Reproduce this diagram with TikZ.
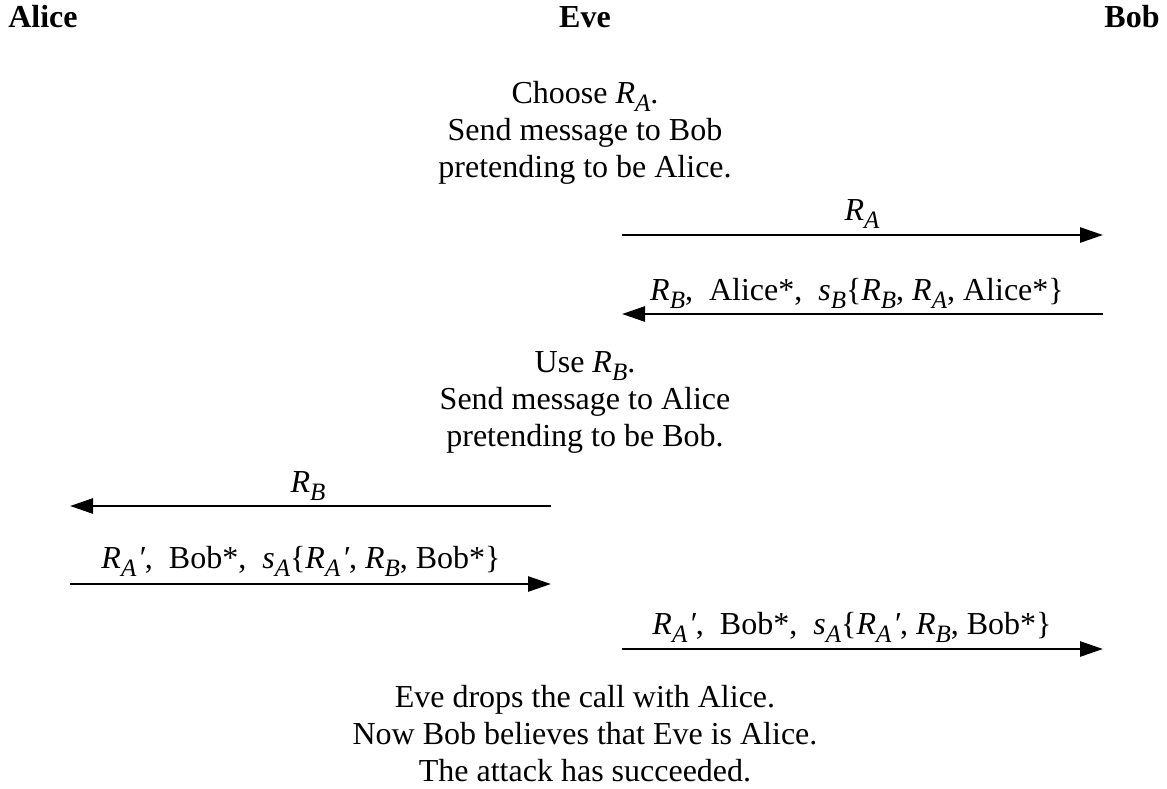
\documentclass[tikz,border=0pt]{standalone}
\usepackage{fontspec}
\setmainfont{Liberation Serif}
\usetikzlibrary{arrows.meta}
\newcommand\vr[2]{\textit{#1}\raisebox{-8pt}{\fontsize{25}{25}\selectfont\textit{#2}}}
\newcommand\vrp[2]{\textit{#1}\raisebox{-8pt}{\fontsize{25}{25}\selectfont\textit{#2}}\textit{\kern0.05em′}}
\begin{document}
\begin{tikzpicture}[x=1pt,y=-1pt,
  every node/.style={inner sep=0pt,outer sep=0pt,font=\fontsize{32}{37}\selectfont},
  hdr/.style={anchor=base,font=\fontsize{32}{37}\selectfont\bfseries},
  blk/.style={align=center,anchor=north},
  lbl/.style={anchor=base},
  msg/.style={line width=2.7pt,-{Triangle[length=23pt,width=15pt]}}]
\useasboundingbox (0,0) rectangle (1167,788);
% headers
\node[hdr] (alice) at (43,27) {Alice};
\node[hdr] (eve) at (585,27) {Eve};
\node[hdr] (bob) at (1132,27) {Bob};
% block 1
\node[blk] (b1) at (585,81) {Choose \vr{R}{A}.\\Send message to Bob\\pretending to be Alice.};
% arrow 1
\coordinate (m1s) at (622,235);
\coordinate (m1e) at (1103,235);
\draw[msg] (m1s) -- (m1e);
\node[lbl] (l1) at (862,220) {\vr{R}{A}};
% arrow 2
\coordinate (m2s) at (1103,314);
\coordinate (m2e) at (622,314);
\draw[msg] (m2s) -- (m2e);
\node[lbl] (l2) at (857,300) {\vr{R}{B},\ \ Alice*,\ \ \vr{s}{B}\{\vr{R}{B}, \vr{R}{A}, Alice*\}};
% block 2
\node[blk] (b2) at (585,352) {Use \vr{R}{B}.\\Send message to Alice\\pretending to be Bob.};
% arrow 3
\coordinate (m3s) at (551,506);
\coordinate (m3e) at (70,506);
\draw[msg] (m3s) -- (m3e);
\node[lbl] (l3) at (308,492) {\vr{R}{B}};
% arrow 4
\coordinate (m4s) at (70,584);
\coordinate (m4e) at (551,584);
\draw[msg] (m4s) -- (m4e);
\node[lbl] (l4) at (301,568) {\vrp{R}{A},\ \ Bob*,\ \ \vr{s}{A}\{\vrp{R}{A}, \vr{R}{B}, Bob*\}};
% arrow 5
\coordinate (m5s) at (622,649);
\coordinate (m5e) at (1103,649);
\draw[msg] (m5s) -- (m5e);
\node[lbl] (l5) at (852,634) {\vrp{R}{A},\ \ Bob*,\ \ \vr{s}{A}\{\vrp{R}{A}, \vr{R}{B}, Bob*\}};
% block 3
\node[blk] (b3) at (585,685) {Eve drops the call with Alice.\\Now Bob believes that Eve is Alice.\\The attack has succeeded.};
\end{tikzpicture}
\end{document}
